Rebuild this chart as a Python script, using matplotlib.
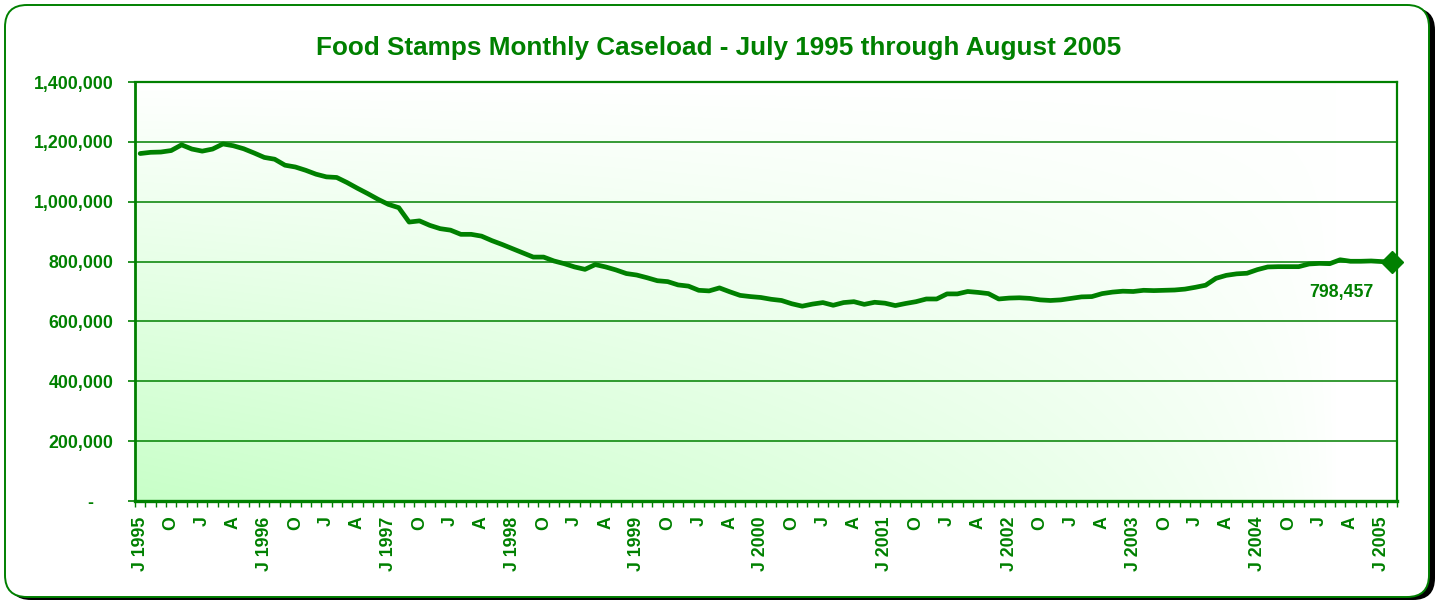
import numpy as np
import matplotlib
matplotlib.use("Agg")
import matplotlib.pyplot as plt
from matplotlib.patches import FancyBboxPatch
from matplotlib.ticker import FixedLocator

plt.rcParams['font.family'] = ['Liberation Sans', 'DejaVu Sans']

# ---------------- data ----------------
title = "Food Stamps Monthly Caseload - July 1995 through August 2005"

caseload = [
    1161000, 1165000, 1166000, 1171000, 1190000, 1176000, 1169000, 1176000, 1193000, 1187000,
    1177000, 1163000, 1148000, 1142000, 1122000, 1116000, 1105000, 1092000, 1083000, 1081000,
    1064000, 1045000, 1027000, 1008000, 991000, 980000, 932000, 936000, 921000, 910000,
    905000, 891000, 891000, 885000, 870000, 857000, 843000, 829000, 815000, 815000,
    802000, 793000, 782000, 774000, 790000, 782000, 772000, 760000, 755000, 746000,
    736000, 733000, 722000, 718000, 704000, 702000, 712000, 699000, 687000, 683000,
    680000, 674000, 670000, 659000, 651000, 658000, 663000, 654000, 663000, 666000,
    657000, 664000, 661000, 653000, 660000, 666000, 675000, 675000, 692000, 692000,
    700000, 697000, 693000, 675000, 678000, 679000, 677000, 672000, 670000, 672000,
    677000, 682000, 683000, 693000, 698000, 701000, 700000, 704000, 703000, 704000,
    705000, 708000, 714000, 721000, 744000, 754000, 759000, 761000, 773000, 782000,
    783000, 783000, 783000, 792000, 794000, 793000, 806000, 801000, 801000, 802000,
    800000, 798457,
]

tick_labels = [
    "J 1995", "O", "J", "A",
    "J 1996", "O", "J", "A",
    "J 1997", "O", "J", "A",
    "J 1998", "O", "J", "A",
    "J 1999", "O", "J", "A",
    "J 2000", "O", "J", "A",
    "J 2001", "O", "J", "A",
    "J 2002", "O", "J", "A",
    "J 2003", "O", "J", "A",
    "J 2004", "O", "J", "A",
    "J 2005",
]

y_ticks = [0, 200000, 400000, 600000, 800000, 1000000, 1200000, 1400000]
y_tick_labels = ["-    ", "200,000", "400,000", "600,000", "800,000",
                 "1,000,000", "1,200,000", "1,400,000"]

last_label = "798,457"

# ---------------- style ----------------
GREEN = "#008000"
W, H = 1439, 601
fig = plt.figure(figsize=(W / 100, H / 100), dpi=100)
fig.patch.set_facecolor("white")

# background axes in pixel coordinates (origin top-left) for the rounded frame
bg = fig.add_axes([0, 0, 1, 1])
bg.set_xlim(0, W)
bg.set_ylim(H, 0)
bg.axis("off")
bg.set_zorder(0)
shadow = FancyBboxPatch((9, 8), 1426, 592,
                        boxstyle="round,pad=0,rounding_size=22",
                        facecolor="black", edgecolor="black", lw=0, zorder=0)
bg.add_patch(shadow)
frame = FancyBboxPatch((5, 5), 1424, 592,
                       boxstyle="round,pad=0,rounding_size=22",
                       facecolor="white", edgecolor=GREEN, lw=1.4, zorder=1)
bg.add_patch(frame)

ax_left, ax_right, ax_top, ax_bottom = 135, 1397, 82, 501
ax = fig.add_axes([ax_left / W, (H - ax_bottom) / H,
                   (ax_right - ax_left) / W, (ax_bottom - ax_top) / H])
ax.set_zorder(2)

n = len(caseload)
x = np.arange(n)
ax.set_xlim(-0.5, n - 0.5)
ax.set_ylim(0, 1400000)

# gradient background (light green bottom-left fading to white)
gx = np.linspace(0, 1, 300)
gy = np.linspace(0, 1, 200)
GX, GY = np.meshgrid(gx, gy)
t = (1 - GY) * np.clip(1 - GX * 1.05, 0, 1) ** 0.65
base = np.array([1.0, 1.0, 1.0])
green_c = np.array([200 / 255, 1.0, 200 / 255])
img = base[None, None, :] * (1 - t[..., None]) + green_c[None, None, :] * t[..., None]
ax.imshow(img, extent=[-0.5, n - 0.5, 0, 1400000], origin="lower",
          aspect="auto", zorder=0, interpolation="bilinear")

# grid lines
for yv in y_ticks[1:-1]:
    ax.axhline(yv, color=GREEN, lw=1.1, zorder=1)

# series
ax.plot(x, caseload, color=GREEN, lw=3.4, solid_joinstyle="round",
        solid_capstyle="round", zorder=3)
ax.plot([x[-1]], [caseload[-1]], marker="D", color=GREEN, ms=11, zorder=4,
        clip_on=False)
ax.annotate(last_label, xy=(x[-1], caseload[-1]), xytext=(-36, -22),
            textcoords="offset points", ha="center", va="center",
            color=GREEN, fontsize=12.8, fontweight="bold", zorder=5)

# spines
for side in ["left", "bottom"]:
    ax.spines[side].set_color(GREEN)
ax.spines["left"].set_linewidth(2.0)
ax.spines["bottom"].set_linewidth(2.4)
ax.spines["top"].set_color(GREEN)
ax.spines["top"].set_linewidth(1.6)
ax.spines["right"].set_color(GREEN)
ax.spines["right"].set_linewidth(1.6)

# y axis
ax.set_yticks(y_ticks)
ax.set_yticklabels(y_tick_labels)
ax.tick_params(axis="y", direction="out", length=5, width=1.2, color=GREEN,
               labelcolor=GREEN, labelsize=12.8, pad=10.5)
for lbl in ax.get_yticklabels():
    lbl.set_fontweight("bold")

# x axis
major_pos = list(range(0, n, 3))[:len(tick_labels)]
ax.set_xticks(major_pos)
ax.set_xticklabels(tick_labels, rotation=90, va="top", ha="center")
ax.xaxis.set_minor_locator(FixedLocator(np.arange(-0.5, n, 1.0)))
ax.tick_params(axis="x", which="major", length=0, labelcolor=GREEN,
               labelsize=12.8, pad=11)
ax.tick_params(axis="x", which="minor", direction="out", length=4.5,
               width=1.0, color=GREEN)
for lbl in ax.get_xticklabels():
    lbl.set_fontweight("bold")

# title
fig.text(719 / W, 1 - 48 / H, title, ha="center", va="center",
         color=GREEN, fontsize=18.8, fontweight="bold")

fig.savefig("out.png", dpi=100)
